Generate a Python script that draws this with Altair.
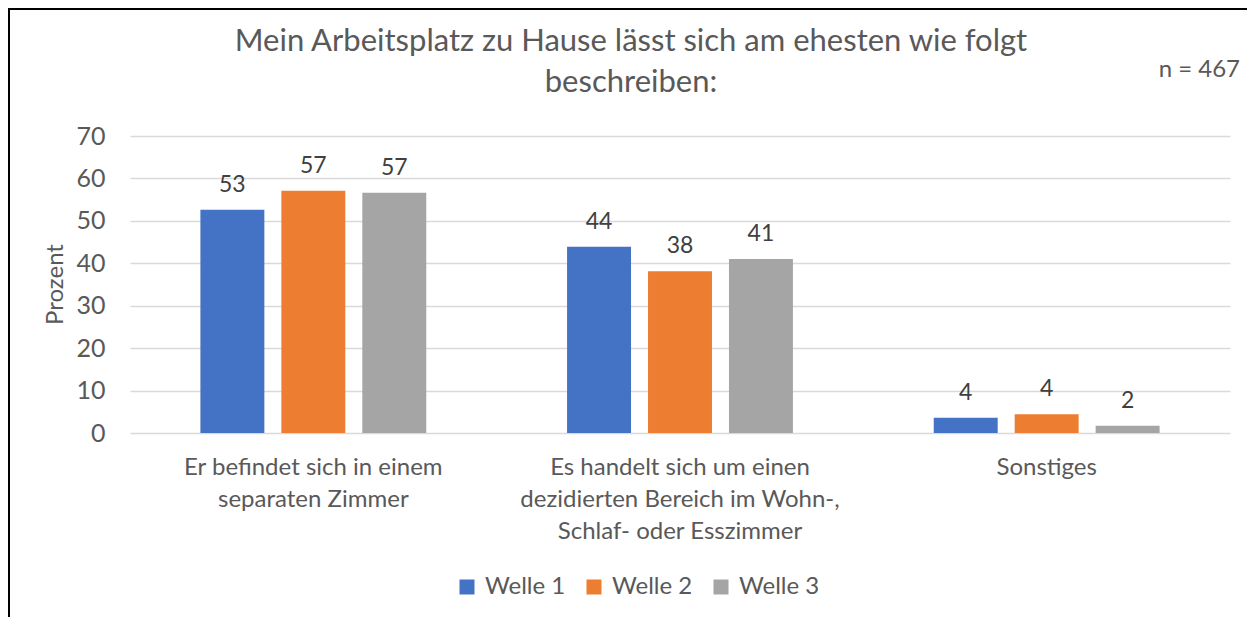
import altair as alt
import pandas as pd

categories = [
    "Er befindet sich in einem\nseparaten Zimmer",
    "Es handelt sich um einen\ndezidierten Bereich im Wohn-,\nSchlaf- oder Esszimmer",
    "Sonstiges",
]
series = ["Welle 1", "Welle 2", "Welle 3"]
welle1 = [52.6, 43.9, 3.6]
welle2 = [57.1, 38.1, 4.4]
welle3 = [56.6, 41.0, 1.7]
colors = ["#4472C4", "#ED7D31", "#A5A5A5"]
y_ticks = [0, 10, 20, 30, 40, 50, 60, 70]
title_lines = ["Mein Arbeitsplatz zu Hause lässt sich am ehesten wie folgt", "beschreiben:"]
n_text = "n = 467"

rows = []
for s, vals in zip(series, [welle1, welle2, welle3]):
    for c, v in zip(categories, vals):
        rows.append({"category": c, "series": s, "value": v})
df = pd.DataFrame(rows)

FONT = "Lato"
GREY = "#595959"

x_enc = alt.X(
    "category:N",
    sort=categories,
    scale=alt.Scale(paddingInner=0.384, paddingOuter=0.192),
    axis=alt.Axis(
        title=None,
        labelAngle=0,
        labelExpr="split(datum.label, '\\n')",
        labelFontSize=24,
        labelFont=FONT,
        labelColor=GREY,
        labelLineHeight=32,
        labelBaseline="top",
        labelPadding=22,
        labelLimit=500,
        ticks=False,
        domain=False,
    ),
)
xoff_enc = alt.XOffset("series:N", sort=series, scale=alt.Scale(paddingInner=0.21, paddingOuter=0))
y_enc = alt.Y(
    "value:Q",
    scale=alt.Scale(domain=[0, 70], nice=False),
    axis=alt.Axis(
        values=y_ticks,
        title="Prozent",
        titleFont=FONT,
        titleFontSize=24,
        titleFontWeight="normal",
        titleColor=GREY,
        titleX=-75,
        titleY=148,
        titleAngle=270,
        titleAlign="center",
        titleBaseline="middle",
        labelFont=FONT,
        labelFontSize=25,
        labelColor=GREY,
        labelPadding=25,
        ticks=False,
        domain=False,
        gridColor="#d9d9d9",
        gridWidth=1.5,
    ),
)

bars = alt.Chart(df).mark_bar().encode(
    x=x_enc,
    xOffset=xoff_enc,
    y=y_enc,
    color=alt.Color(
        "series:N",
        sort=series,
        scale=alt.Scale(domain=series, range=colors),
        legend=alt.Legend(
            title=None,
            orient="none",
            legendX=325,
            legendY=439,
            direction="horizontal",
            symbolType="square",
            symbolSize=225,
            symbolStrokeWidth=0,
            labelFont=FONT,
            labelFontSize=24,
            labelColor=GREY,
            labelOffset=6,
            columnPadding=16,
        ),
    ),
)

labels = alt.Chart(df).mark_text(
    baseline="alphabetic", dy=-18, fontSize=23, font=FONT, color="#404040"
).encode(
    x=alt.X("category:N", sort=categories),
    xOffset=alt.XOffset("series:N", sort=series),
    y="value:Q",
    text=alt.Text("value:Q", format=".0f"),
)

title_df = pd.DataFrame({"t": ["\n".join(title_lines)]})
title = alt.Chart(title_df).mark_text(
    align="center", baseline="middle", fontSize=31, font=FONT, color=GREY,
    lineBreak="\n", lineHeight=41,
).encode(x=alt.value(501), y=alt.value(-94), text="t:N")

n_df = pd.DataFrame({"t": [n_text]})
ntext = alt.Chart(n_df).mark_text(
    align="right", baseline="middle", fontSize=24, font=FONT, color=GREY
).encode(x=alt.value(1110), y=alt.value(-66), text="t:N")

b_df = pd.DataFrame({"k": [1]})
left_border = alt.Chart(b_df).mark_rule(color="black", strokeWidth=2).encode(
    x=alt.value(-121), y=alt.value(-128), y2=alt.value(481)
)
top_border = alt.Chart(b_df).mark_rule(color="black", strokeWidth=2).encode(
    x=alt.value(-122), x2=alt.value(1117), y=alt.value(-127)
)

chart = alt.layer(bars, labels, title, ntext, left_border, top_border).resolve_scale(
    x="shared"
).properties(
    width=1100,
    height=297,
    autosize=alt.AutoSizeParams(type="none"),
    padding={"left": 122, "top": 128, "right": 17, "bottom": 184},
).configure_view(stroke=None)

chart.save("out.html", embed_options={"renderer": "svg", "actions": False})
